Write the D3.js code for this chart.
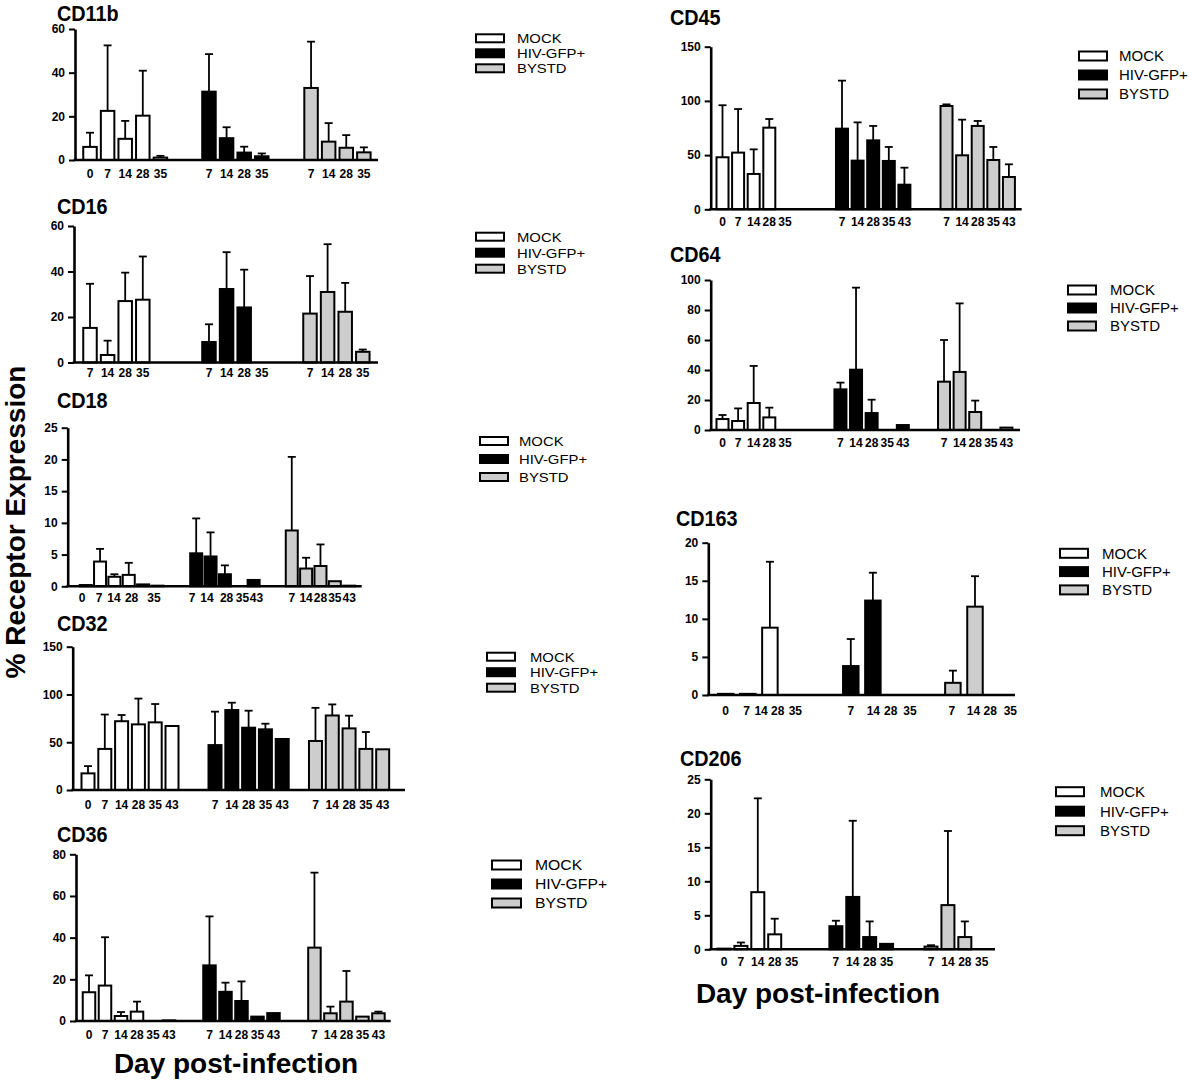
<!DOCTYPE html>
<html><head><meta charset="utf-8">
<script src="https://cdn.jsdelivr.net/npm/d3@7"></script>
<style>
body{margin:0;background:#fff}
svg{display:block}
text{font-family:Arial,"Liberation Sans",Helvetica,sans-serif;fill:#000}
</style>
</head><body>
<svg id="chart" width="1200" height="1082"></svg>
<script>
// ---------- DATA ----------
const seriesNames = ["MOCK", "HIV-GFP+", "BYSTD"];
const yAxisTitle = "% Receptor Expression";
const xAxisTitle = "Day post-infection";

// CD11b
const cd11bDays = [["0","7","14","28","35"], ["7","14","28","35"], ["7","14","28","35"]];
const cd11bMean = [[6, 22.5, 9.7, 20.3, 1.1], [31.3, 10, 3.4, 1.7], [33, 8.4, 5.6, 3.5]];
const cd11bSD   = [[6.5, 30, 8.2, 20.6, 0.8], [17.2, 5, 2.7, 1.3], [21.2, 8.5, 5.8, 2.3]];
const cd11bTicks = [0, 20, 40, 60];

// CD16
const cd16Days = [["7","14","28","35"], ["7","14","28","35"], ["7","14","28","35"]];
const cd16Mean = [[15.2, 3.3, 27, 27.6], [9, 32.3, 24.2, null], [21.5, 31, 22.3, 4.7]];
const cd16SD   = [[19.4, 6.3, 12.5, 19], [7.8, 16.2, 16.6, 0], [16.5, 21, 12.7, 1]];
const cd16Ticks = [0, 20, 40, 60];

// CD18
const cd18Days = [["0","7","14","28","","35"], ["7","14","28","35","43"], ["7","14","28","35","43"]];
const cd18Mean = [[0.2, 3.9, 1.5, 1.8, 0.3, 0.1], [5.2, 4.7, 1.9, null, 1.0], [8.8, 2.8, 3.2, 0.8, 0.1]];
const cd18SD   = [[0, 2.0, 0.4, 1.9, 0, 0], [5.5, 3.8, 1.4, 0, 0], [11.6, 1.7, 3.4, 0, 0]];
const cd18Ticks = [0, 5, 10, 15, 20, 25];

// CD32
const cd32Days = [["0","7","14","28","35","43"], ["7","14","28","35","43"], ["7","14","28","35","43"]];
const cd32Mean = [[17.4, 43, 72, 68.7, 70.8, 67], [47, 83.7, 65.2, 63.5, 53.4], [51.3, 78, 64.5, 43, 42.6]];
const cd32SD   = [[7.6, 36, 6.5, 27, 19.2, 0], [35, 7.7, 17.8, 5.9, 0], [34.7, 11.6, 13.3, 17.7, 0]];
const cd32Ticks = [0, 50, 100, 150];

// CD36
const cd36Days = [["0","7","14","28","35","43"], ["7","14","28","35","43"], ["7","14","28","35","43"]];
const cd36Mean = [[13.8, 17, 2.4, 4.5, null, 0.3], [26.7, 14, 9.6, 2.1, 3.8], [35.2, 3.7, 9.3, 2.1, 3.7]];
const cd36SD   = [[8.1, 23.2, 1.9, 4.8, 0, 0], [23.5, 4.4, 9.4, 0, 0], [36, 3.2, 14.7, 0, 0.8]];
const cd36Ticks = [0, 20, 40, 60, 80];

// CD45
const cd45Days = [["0","7","14","28","35"], ["7","14","28","35","43"], ["7","14","28","35","43"]];
const cd45Mean = [[48, 52.3, 32.6, 75.3, null], [74.4, 44.9, 63.6, 44.6, 22.7], [95.3, 49.8, 76.9, 45.5, 29.8]];
const cd45SD   = [[48, 40.2, 22.7, 8, 0], [44.3, 35.3, 13.3, 12.9, 15.7], [1.5, 32.9, 4.6, 12, 11.7]];
const cd45Ticks = [0, 50, 100, 150];

// CD64
const cd64Days = [["0","7","14","28","35"], ["7","14","28","35","43"], ["7","14","28","35","43"]];
const cd64Mean = [[7.3, 6, 18, 8.4, null], [27.1, 40.2, 11.3, null, 3.3], [32.2, 38.7, 12, null, 1.6]];
const cd64SD   = [[2.7, 8.4, 24.7, 6.5, 0], [4.5, 54.7, 8.9, 0, 0], [27.8, 45.7, 7.6, 0, 0]];
const cd64Ticks = [0, 20, 40, 60, 80, 100];

// CD163
const cd163Days = [["0","7","14","28","35"], ["7","14","28","35"], ["7","14","28","35"]];
const cd163Mean = [[0.15, 0.15, 8.84, null, null], [3.8, 12.4, null, null], [1.6, 11.6, null, null]];
const cd163SD   = [[0, 0, 8.66, 0, 0], [3.55, 3.66, 0, 0], [1.6, 4.0, 0, 0]];
const cd163Ticks = [0, 5, 10, 15, 20];

// CD206
const cd206Days = [["0","7","14","28","35"], ["7","14","28","35"], ["7","14","28","35"]];
const cd206Mean = [[0.1, 0.5, 8.4, 2.2, null], [3.4, 7.7, 1.8, 0.8], [0.4, 6.5, 1.8, null]];
const cd206SD   = [[0, 0.5, 13.8, 2.3, 0], [0.8, 11.2, 2.3, 0], [0.2, 10.9, 2.3, 0]];
const cd206Ticks = [0, 5, 10, 15, 20, 25];

// ---------- LAYOUT (positions / sizes only) ----------
const fills = ["#ffffff", "#000000", "#cdcdcd"];
const leftLeg = {fs: 13.5, sx: 1.1, bw: 28, bh: 8};
const rightLeg = {fs: 15, sx: 1.0, bw: 28, bh: 9};

const panels = [
  {title:"CD11b", days:cd11bDays, mean:cd11bMean, sd:cd11bSD, ticks:cd11bTicks,
   tx:57, ty:20.5, ax:75, y0:160, yTop:29, xEnd:378, first:90, step:17.6, gs:[0,6.76,12.56], bw:13.5, ly:177.5,
   leg:Object.assign({x:476, y:38.3, gap:15, dx:41}, leftLeg)},
  {title:"CD16", days:cd16Days, mean:cd16Mean, sd:cd16SD, ticks:cd16Ticks,
   tx:57, ty:214, ax:74, y0:362.5, yTop:226, xEnd:378, first:90, step:17.6, gs:[0,6.76,12.5], bw:13.5, ly:377,
   leg:Object.assign({x:476, y:236.7, gap:16, dx:41}, leftLeg)},
  {title:"CD18", days:cd18Days, mean:cd18Mean, sd:cd18SD, ticks:cd18Ticks,
   tx:57, ty:408, ax:67.7, y0:586.3, yTop:427.7, xEnd:361.7, first:85.7, step:14.35, gs:[0,7.7,14.36], bw:12, ly:602,
   labelAt:[[-0.26,0.93,1.97,3.2,4,4.76],[-0.29,0.75,2.12,3.22,4.2],null],
   leg:Object.assign({x:480, y:441, gap:18, dx:39}, leftLeg)},
  {title:"CD32", days:cd32Days, mean:cd32Mean, sd:cd32SD, ticks:cd32Ticks,
   tx:57, ty:631, ax:72.7, y0:790, yTop:646.7, xEnd:405, first:88, step:16.8, gs:[0,7.56,13.54], bw:13, ly:808.5,
   leg:Object.assign({x:487, y:656.7, gap:15.5, dx:43}, leftLeg)},
  {title:"CD36", days:cd36Days, mean:cd36Mean, sd:cd36SD, ticks:cd36Ticks,
   tx:57, ty:842, ax:76, y0:1021, yTop:854.3, xEnd:390.7, first:89, step:16, gs:[0,7.53,14.09], bw:12.5, ly:1038.5,
   leg:{x:492, y:865, gap:19, dx:43, fs:15, sx:1.05, bw:29, bh:9}},
  {title:"CD45", days:cd45Days, mean:cd45Mean, sd:cd45SD, ticks:cd45Ticks,
   tx:670, ty:25, ax:710.7, y0:209.3, yTop:46.7, xEnd:1021.7, first:722.5, step:15.6, gs:[0,7.66,14.36], bw:12, ly:226,
   leg:Object.assign({x:1079, y:56, gap:19, dx:40}, rightLeg)},
  {title:"CD64", days:cd64Days, mean:cd64Mean, sd:cd64SD, ticks:cd64Ticks,
   tx:670, ty:262, ax:710.7, y0:430, yTop:280, xEnd:1020, first:722.5, step:15.6, gs:[0,7.56,14.2], bw:12, ly:447,
   leg:Object.assign({x:1068, y:290, gap:18, dx:42}, rightLeg)},
  {title:"CD163", days:cd163Days, mean:cd163Mean, sd:cd163SD, ticks:cd163Ticks,
   tx:676, ty:526, ax:708.3, y0:695, yTop:542.7, xEnd:1015, first:725.7, step:22.1, gs:[0,5.66,10.28], bw:15.5, ly:715,
   labelAt:[[0,0.95,1.6,2.35,3.15],[0,1.02,1.81,2.68],[-0.05,0.93,1.69,2.6]],
   leg:Object.assign({x:1060, y:553.3, gap:18.3, dx:42}, rightLeg)},
  {title:"CD206", days:cd206Days, mean:cd206Mean, sd:cd206SD, ticks:cd206Ticks,
   tx:680, ty:766, ax:710.7, y0:949.3, yTop:779.3, xEnd:995, first:724, step:16.9, gs:[0,6.62,12.25], bw:13, ly:966,
   leg:Object.assign({x:1056, y:791.7, gap:19.5, dx:44}, rightLeg)}
];

// ---------- DRAW ----------
const svg = d3.select("#chart");

panels.forEach(p => {
  const g = svg.append("g");
  const ys = d3.scaleLinear().domain([0, d3.max(p.ticks)]).range([p.y0, p.yTop]);
  const xs = d3.scaleLinear().domain([0, 1]).range([p.first, p.first + p.step]);

  // title
  g.append("text")
    .attr("transform", `translate(${p.tx},${p.ty}) scale(0.88,1)`)
    .style("font-size", "22.5px").style("font-weight", "bold")
    .text(p.title);

  // y axis
  const yAxis = d3.axisLeft(ys).tickValues(p.ticks).tickSize(6).tickSizeOuter(0).tickPadding(4)
    .tickFormat(d3.format("d"));
  const ya = g.append("g").attr("transform", `translate(${p.ax},0)`).call(yAxis);
  ya.select(".domain").attr("stroke", "#000").attr("stroke-width", 2.6);
  ya.selectAll(".tick line").attr("stroke", "#000").attr("stroke-width", 2);
  ya.selectAll(".tick text").style("font-size", "12px").style("font-weight", "bold")
    .style("font-family", "Arial, 'Liberation Sans', sans-serif").attr("fill", "#000");

  // bars + error bars
  p.mean.forEach((grp, gi) => {
    grp.forEach((v, i) => {
      if (v === null) return;
      const cx = xs(p.gs[gi] + i);
      const sd = p.sd[gi][i] || 0;
      if (sd > 0) {
        g.append("line").attr("x1", cx).attr("x2", cx)
          .attr("y1", ys(v)).attr("y2", ys(v + sd))
          .attr("stroke", "#000").attr("stroke-width", 1.8);
        g.append("line").attr("x1", cx - 4).attr("x2", cx + 4)
          .attr("y1", ys(v + sd)).attr("y2", ys(v + sd))
          .attr("stroke", "#000").attr("stroke-width", 1.8);
      }
      g.append("rect")
        .attr("x", cx - p.bw / 2).attr("y", ys(v))
        .attr("width", p.bw).attr("height", p.y0 - ys(v))
        .attr("fill", fills[gi]).attr("stroke", "#000").attr("stroke-width", 2);
    });
    // x labels
    p.days[gi].forEach((d, i) => {
      if (!d) return;
      const pos = (p.labelAt && p.labelAt[gi]) ? p.labelAt[gi][i] : i;
      g.append("text").attr("x", xs(p.gs[gi] + pos)).attr("y", p.ly)
        .attr("text-anchor", "middle")
        .style("font-size", "12px").style("font-weight", "bold")
        .text(d);
    });
  });

  // x axis line
  g.append("line").attr("x1", p.ax - 1.3).attr("x2", p.xEnd)
    .attr("y1", p.y0).attr("y2", p.y0)
    .attr("stroke", "#000").attr("stroke-width", 2.6);

  // legend
  const L = p.leg;
  seriesNames.forEach((s, si) => {
    const cy = L.y + si * L.gap;
    g.append("rect").attr("x", L.x).attr("y", cy - L.bh / 2)
      .attr("width", L.bw).attr("height", L.bh)
      .attr("fill", fills[si]).attr("stroke", "#000").attr("stroke-width", 2);
    g.append("text")
      .attr("transform", `translate(${L.x + L.dx},${cy}) scale(${L.sx},1)`)
      .attr("dy", "0.36em")
      .style("font-size", L.fs + "px")
      .text(s);
  });
});

// axis titles
svg.append("text")
  .attr("transform", "translate(25,522) rotate(-90)")
  .attr("text-anchor", "middle")
  .style("font-size", "28px").style("font-weight", "bold")
  .text(yAxisTitle);

svg.append("text").attr("x", 236).attr("y", 1073).attr("text-anchor", "middle")
  .style("font-size", "28px").style("font-weight", "bold").text(xAxisTitle);
svg.append("text").attr("x", 818).attr("y", 1003).attr("text-anchor", "middle")
  .style("font-size", "28px").style("font-weight", "bold").text(xAxisTitle);
</script>
</body></html>
